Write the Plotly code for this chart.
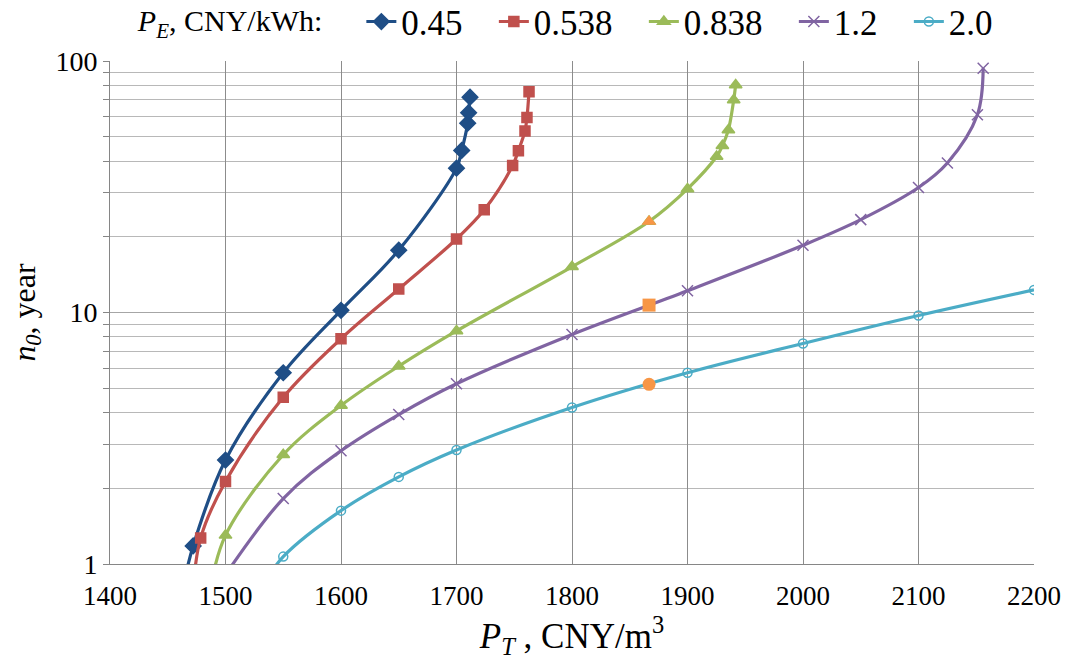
import plotly.graph_objects as go

# ---- data ----
pt_045 = [1463, 1472, 1500, 1550, 1600, 1650, 1700, 1704.5, 1709.7, 1710.5, 1711.7]
n_045 = [0.8, 1.18, 2.59, 5.76, 10.2, 17.7, 37.5, 44.1, 56.6, 62.3, 71.8]

pt_0538 = [1472, 1478.5, 1500, 1550, 1600, 1650, 1700, 1724, 1748.6, 1753.6, 1759.3, 1761, 1762.8]
n_0538 = [0.8, 1.27, 2.13, 4.6, 7.86, 12.4, 19.6, 25.6, 38.4, 44.0, 52.7, 59.6, 75.5]

pt_0838 = [1487, 1500, 1550, 1600, 1650, 1700, 1800, 1866.7, 1900, 1925.2, 1930.2, 1935.4, 1940, 1941.7]
n_0838 = [0.8, 1.3, 2.72, 4.27, 6.12, 8.45, 15.2, 23.0, 31.0, 41.7, 46.0, 53.2, 70.0, 80.3]

pt_12 = [1492, 1550, 1600, 1650, 1700, 1800, 1900, 2000, 2050, 2100, 2125, 2151, 2156]
n_12 = [0.8, 1.82, 2.82, 3.93, 5.21, 8.18, 12.2, 18.5, 23.4, 31.4, 39.3, 61.1, 93.5]

pt_20 = [1538, 1550, 1600, 1650, 1700, 1800, 1900, 2000, 2100, 2200]
n_20 = [0.9, 1.07, 1.63, 2.22, 2.84, 4.19, 5.76, 7.53, 9.73, 12.3]

# highlighted points
hl_pt = [1866.7, 1866.7, 1866.7]
hl_n = [23.0, 10.7, 5.18]
hl_symbols = ["triangle-up", "square", "circle"]

series = [
    ("0.45", pt_045, n_045, "#1F4E86", "diamond", 12),
    ("0.538", pt_0538, n_0538, "#C0504D", "square", 10),
    ("0.838", pt_0838, n_0838, "#9BBB59", "triangle-up", 11),
    ("1.2", pt_12, n_12, "#8064A2", "x-thin-open", 11),
    ("2.0", pt_20, n_20, "#4BACC6", "circle-open", 9),
]

FONT = "Liberation Serif, Times New Roman, serif"
PAD = "\u00a0" * 3

fig = go.Figure()
for name, xs, ys, color, sym, size in series:
    fig.add_trace(go.Scatter(
        x=xs, y=ys, name=name + PAD, mode="lines+markers",
        line=dict(color=color, width=3.2, shape="spline", smoothing=1.0),
        marker=dict(symbol=sym, size=size, color=color,
                    line=dict(color=color, width=1.5)),
    ))

fig.add_trace(go.Scatter(
    x=hl_pt, y=hl_n, mode="markers", showlegend=False,
    marker=dict(symbol=hl_symbols, size=13, color="#F79646"),
))

fig.update_layout(
    width=1074, height=665,
    margin=dict(l=110, r=40, t=61, b=101, autoexpand=False),
    paper_bgcolor="white", plot_bgcolor="white",
    font=dict(family=FONT, color="black", size=28),
    legend=dict(
        orientation="h", x=0.028, xanchor="left", y=1.078, yanchor="middle",
        font=dict(family=FONT, size=35),
        title=dict(text="<i>P</i><sub><i>E</i></sub>, CNY/kWh:" + "\u00a0" * 4,
                   font=dict(family=FONT, size=30)),
        bgcolor="rgba(0,0,0,0)",
    ),
    xaxis=dict(
        range=[1400, 2200], dtick=100, tick0=1400,
        showgrid=True, gridcolor="#8C8C8C", gridwidth=1,
        showline=True, linecolor="#868686", linewidth=1,
        zeroline=False, ticks="",
        tickfont=dict(family=FONT, size=27),
        ticklabelstandoff=8,
        title=dict(text="<i>P</i><sub><i>T</i></sub> , CNY/m<sup>3</sup>",
                   font=dict(family=FONT, size=35), standoff=4),
    ),
    yaxis=dict(
        type="log", range=[0, 2], dtick=1,
        showgrid=True, gridcolor="#A6A6A6", gridwidth=1,
        showline=True, linecolor="#868686", linewidth=1,
        zeroline=False, ticks="outside", ticklen=6, tickcolor="#868686",
        tickfont=dict(family=FONT, size=28),
        minor=dict(dtick="D1", showgrid=True, gridcolor="#B8B8B8", gridwidth=1,
                   ticks="outside", ticklen=6, tickcolor="#868686"),
        title=dict(text="<i>n</i><sub><i>0</i></sub>, year",
                   font=dict(family=FONT, size=32), standoff=10),
    ),
)

fig.write_html("out.html")
